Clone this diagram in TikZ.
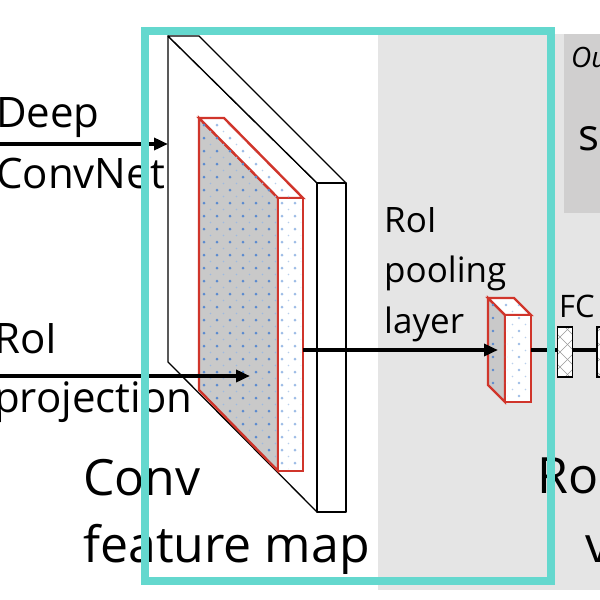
\documentclass[tikz,border=0pt]{standalone}
\usepackage{fontspec}
\setmainfont{Open Sans}
\usetikzlibrary{arrows.meta,calc}
\definecolor{tealbox}{HTML}{64D8CE}
\definecolor{roired}{HTML}{D0352B}
\definecolor{bggray}{HTML}{E5E5E5}
\definecolor{outgray}{HTML}{D0CFCF}
\definecolor{facegray}{HTML}{C9C9C9}
\definecolor{dotblue}{HTML}{5A8ACF}
\definecolor{dotlight}{HTML}{9DBCE6}
\begin{document}
\begin{tikzpicture}
[x=1pt, y=-1pt,
conn/.style={line width=4pt,-{Triangle[length=14pt,width=12pt]}},
plain conn/.style={line width=4pt},
slab/.style={draw=black,line width=1.3pt,fill=white,line join=round},
roi side/.style={draw=roired,line width=2.4pt,fill=facegray},
roi face/.style={draw=roired,line width=2.4pt,fill=white},
hatch/.style={draw=gray!80,line width=0.5pt},
fc box/.style={draw,line width=1.4pt,fill=white,minimum width=15pt,minimum height=50pt,inner sep=0pt,
  path picture={\foreach \k in {-75,-60,...,75}{
    \draw[hatch] ($(path picture bounding box.center)+(\k pt,-40pt)$) -- ++(80pt,80pt);
    \draw[hatch] ($(path picture bounding box.center)+(\k pt,40pt)$) -- ++(80pt,-80pt);}}},
lbl/.style={anchor=base west,inner sep=0pt},
big text/.style={lbl,font=\fontsize{50}{60}\selectfont},
mid text/.style={lbl,font=\fontsize{42}{50}\selectfont},
small text/.style={lbl,font=\fontsize{35}{42}\selectfont}]
\useasboundingbox (0,0) rectangle (600,600);
\clip (0,0) rectangle (600,600);

\fill[bggray] (378,34) rectangle (600,590);
\fill[outgray] (564,34) rectangle (610,213);
\node[lbl,font=\fontsize{28}{34}\selectfont\itshape] (outputs) at (571,67) {Outputs:};
\node[lbl,font=\fontsize{44}{52}\selectfont] (softmax) at (578,150) {softmax};

\draw[slab] (168,36) -- (317,183) -- (317,512) -- (168,362) -- cycle;
\draw[slab] (168,36) -- (199,36) -- (346,183) -- (317,183) -- cycle;
\draw[slab] (317,183) rectangle (346,512);

\draw[roi side] (199,118) -- (278,198) -- (278,471) -- (199,390) -- cycle;
\draw[roi face] (199,118) -- (224,118) -- (303,198) -- (278,198) -- cycle;
\draw[roi face] (278,198) rectangle (303,471);
\begin{scope}
\clip (199,118) -- (278,198) -- (278,471) -- (199,390) -- cycle;
\foreach \x in {204,217,...,280} \foreach \y in {125,138,...,470}
  {\fill[dotblue] (\x,\y) circle (1.5pt); \fill[dotblue!60] (\x+6.5,\y+6.5) circle (0.8pt);}
\end{scope}
\begin{scope}
\clip (201,120) -- (224,120) -- (301,198) -- (301,469) -- (280,469) -- (280,198) -- cycle;
\foreach \x in {204,217,...,300} \foreach \y in {125,138,...,470}
  {\fill[dotlight] (\x,\y) circle (1.5pt); \fill[dotlight!70] (\x+6.5,\y+6.5) circle (0.8pt);}
\end{scope}

\draw[roi side] (488,298) -- (505,315) -- (505,402) -- (488,385) -- cycle;
\draw[roi face] (488,298) -- (514,298) -- (531,315) -- (505,315) -- cycle;
\draw[roi face] (505,315) rectangle (531,402);
\begin{scope}
\clip (488,298) -- (505,315) -- (505,402) -- (488,385) -- cycle;
\foreach \x in {493,506} \foreach \y in {305,318,...,400}
  {\fill[dotblue] (\x,\y) circle (1.4pt);}
\end{scope}
\begin{scope}
\clip (490,300) -- (514,300) -- (529,315) -- (529,400) -- (507,400) -- (507,315) -- cycle;
\foreach \x in {493,506,...,530} \foreach \y in {305,318,...,400}
  {\fill[dotlight] (\x,\y) circle (1.4pt); \fill[dotlight!70] (\x+6.5,\y+6.5) circle (0.8pt);}
\end{scope}

\coordinate (deep tail) at (-5,144);
\coordinate (map in) at (168,144);
\coordinate (proj tail) at (-5,376);
\coordinate (proj tip) at (250,376);
\coordinate (roi out) at (303,350);
\coordinate (pool in) at (498,350);
\coordinate (pool out) at (531,350);
\node[fc box] (fc1) at (565,352) {};
\node[fc box, minimum width=30pt] (fc2) at (612,352) {};

\draw[conn] (deep tail) -- (map in);
\draw[conn] (proj tail) -- (proj tip);
\draw[conn] (roi out) -- (pool in);
\draw[plain conn] (pool out) -- (fc1.west |- pool out);
\draw[plain conn] (fc1.east |- pool out) -- (fc2.west |- pool out);

\node[mid text] (deep) at (-4,127) {Deep};
\node[mid text] (convnet) at (-4,188) {ConvNet};
\node[mid text] (roi) at (-6,353) {RoI};
\node[mid text] (projection) at (-6,412) {projection};
\node[small text] (pool roi) at (384,232) {RoI};
\node[small text] (pooling) at (384,282) {pooling};
\node[small text] (layer) at (384,333) {layer};
\node[lbl,font=\fontsize{31}{37}\selectfont] (fc) at (559,317) {FC};
\node[big text] (conv) at (83,495) {Conv};
\node[big text] (feature map) at (83,562) {feature map};
\node[big text] (roi feature) at (537,493) {RoI feature};
\node[big text] (vector) at (585,562) {vector};

\draw[tealbox,line width=8pt] (145,31) rectangle (551,581);
\end{tikzpicture}
\end{document}
